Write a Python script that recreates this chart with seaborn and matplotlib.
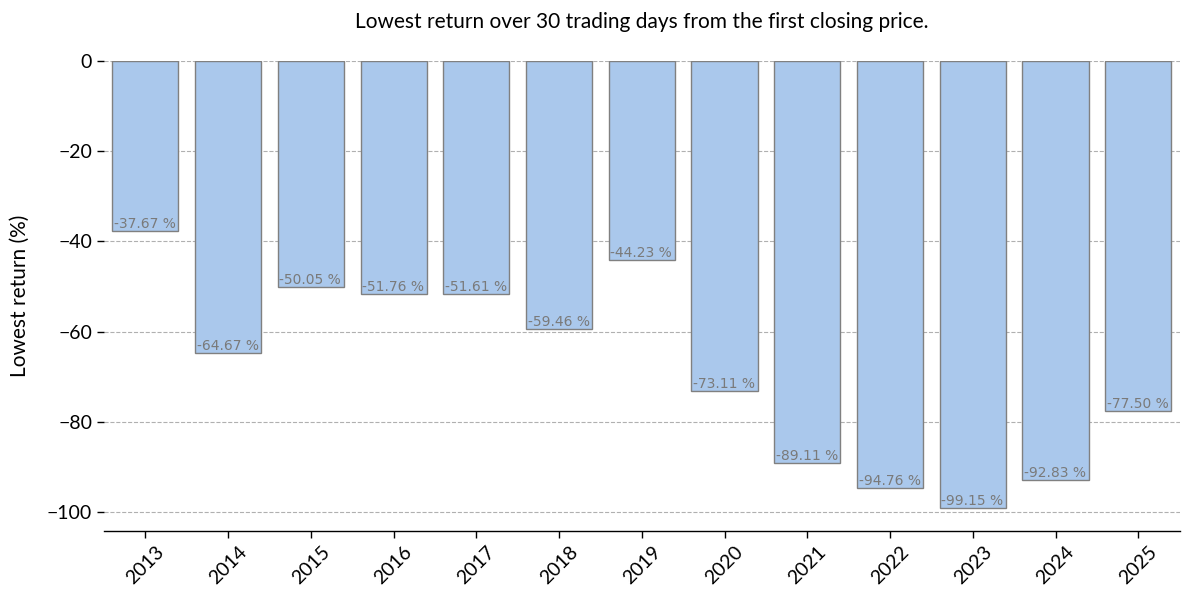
import matplotlib
matplotlib.use("Agg")
import matplotlib.pyplot as plt
import seaborn as sns
import pandas as pd

years = ["2013", "2014", "2015", "2016", "2017", "2018", "2019",
         "2020", "2021", "2022", "2023", "2024", "2025"]
lowest_return = [-37.67, -64.67, -50.05, -51.76, -51.61, -59.46, -44.23,
                 -73.11, -89.11, -94.76, -99.15, -92.83, -77.50]

sns.set_theme(style="white")
plt.rcParams['font.family'] = ['Lato', 'DejaVu Sans']

df = pd.DataFrame({"year": years, "ret": lowest_return})

fig = plt.figure(figsize=(11.82, 5.89), dpi=100)
ax = fig.add_axes([0.088, 0.0985, 0.910, 0.798])
sns.barplot(data=df, x="year", y="ret", color="#aac8ec", saturation=1,
            edgecolor="#808080", linewidth=1.0, width=0.8, ax=ax, zorder=2)

for p, v in zip(ax.patches, lowest_return):
    ax.text(p.get_x() + 0.02, p.get_y() + p.get_height(), f"{v:.2f} %",
            ha="left", va="bottom", fontsize=10, color="#7a7a7a",
            family="DejaVu Sans", zorder=3)

ax.set_ylim(-104.2, 0)
ax.set_xlim(-0.5, len(years) - 0.5)
ax.yaxis.grid(True, linestyle="--", color="#b0b0b0", linewidth=0.8, zorder=0)
ax.set_axisbelow(True)
for s in ["top", "right", "left"]:
    ax.spines[s].set_visible(False)
ax.spines["bottom"].set_color("black")
ax.spines["bottom"].set_linewidth(1.0)
ax.tick_params(axis="both", which="both", bottom=True, left=True, length=5,
               width=1, color="black", labelsize=14, labelcolor="black")
ax.set_yticks([0, -20, -40, -60, -80, -100])
plt.setp(ax.get_xticklabels(), rotation=45)
ax.set_xlabel("")
ax.set_ylabel("Lowest return (%)", fontsize=15, labelpad=12, color="black")
ax.set_title("Lowest return over 30 trading days from the first closing price.",
             fontsize=15, pad=24, color="black")

fig.savefig("out.png", dpi=100)
